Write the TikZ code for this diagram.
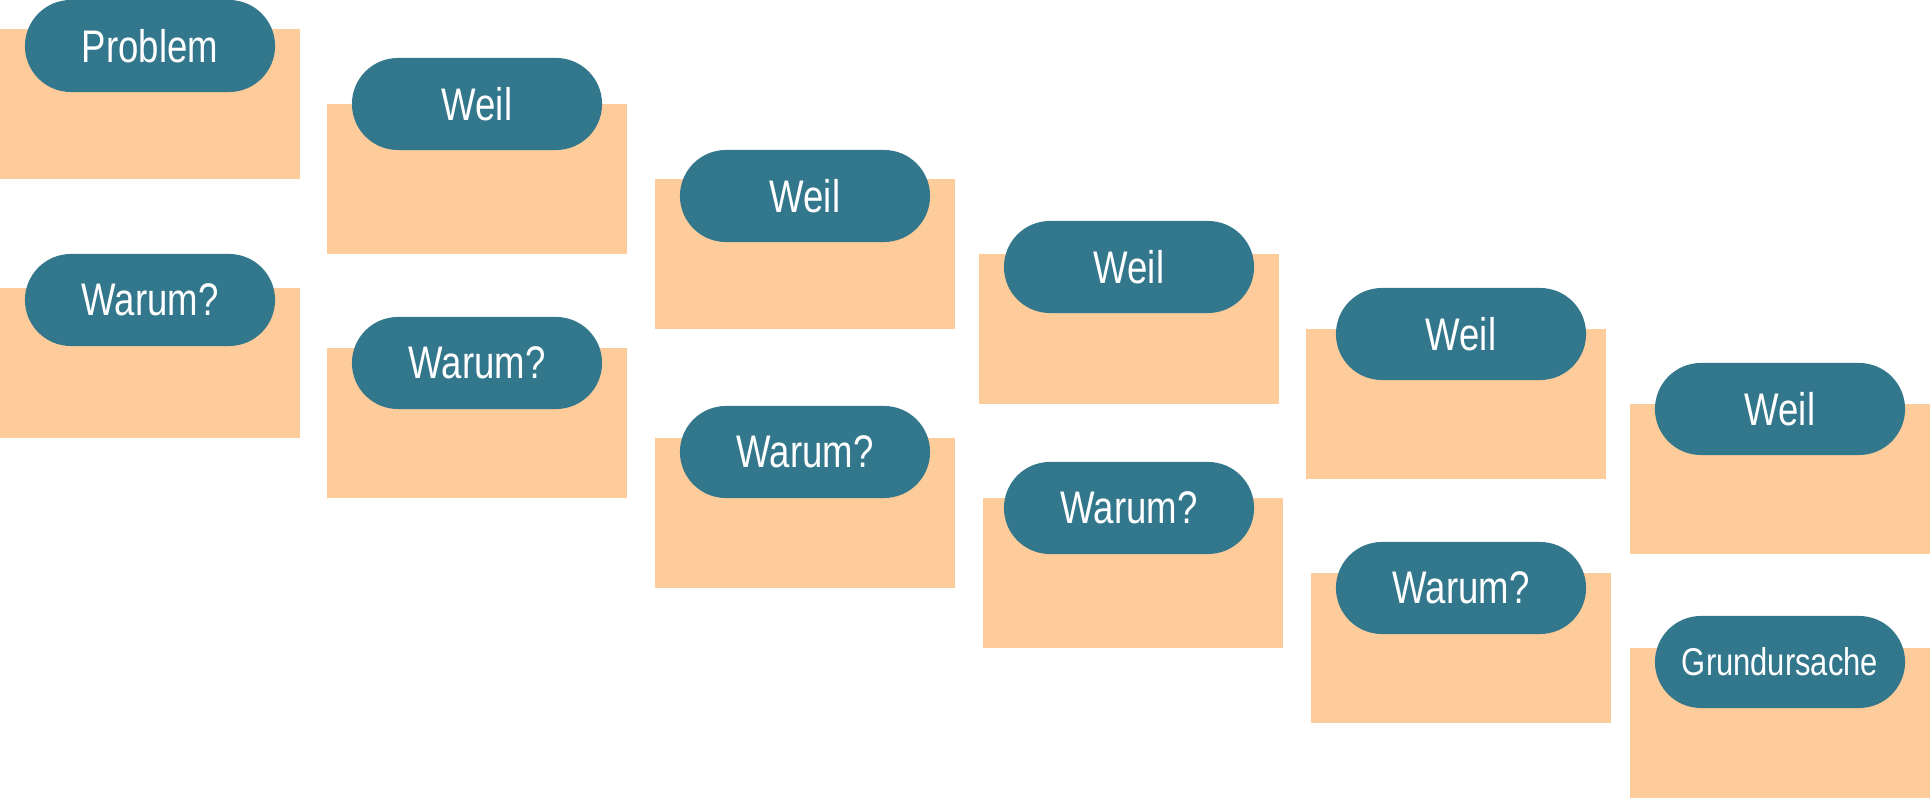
\documentclass[tikz,border=0pt]{standalone}
\usepackage{fontspec}
\setmainfont{Liberation Sans}[FakeStretch=0.8]
\usepackage{tikz}
\definecolor{petrol}{HTML}{33778C}
\definecolor{pfirsich}{HTML}{FDCC9A}
\tikzset{
    karte/.style={fill=pfirsich},
    pille/.style={fill=petrol, text=white, rounded corners=0.46cm,
        minimum width=2.5cm, minimum height=0.92cm, inner sep=0pt,
        font=\fontsize{13}{15}\selectfont}
}

\begin{document}
\begin{tikzpicture}[x=0.01cm, y=-0.01cm]
        \useasboundingbox (0,0) rectangle (1930,798);
        % Karten: Nummer / Karte x / Karte y / Pille x / Pille y / Text
        \foreach \n/\kx/\ky/\px/\py/\txt in {
                1/0/29/150/46/Problem,
                2/0/288/150/300/Warum?,
                3/327/104/477/104/Weil,
                4/327/348/477/363/Warum?,
                5/655/179/805/196/Weil,
                6/655/438/805/452/Warum?,
                7/979/254/1129/267/Weil,
                8/983/498/1129/508/Warum?,
                9/1306/329/1461/334/Weil,
                10/1311/573/1461/588/Warum?,
                11/1630/404/1780/409/Weil} {
                \fill[karte] (\kx,\ky) rectangle ++(300,150);
                \node[pille] (p\n) at (\px,\py) {\txt};
            }
        % Letzte Karte
        \fill[karte] (1630,648) rectangle ++(300,150);
        \node[pille, font=\fontsize{11}{13}\selectfont] (p12) at (1780,662) {Grundursache};
    \end{tikzpicture}
\end{document}
